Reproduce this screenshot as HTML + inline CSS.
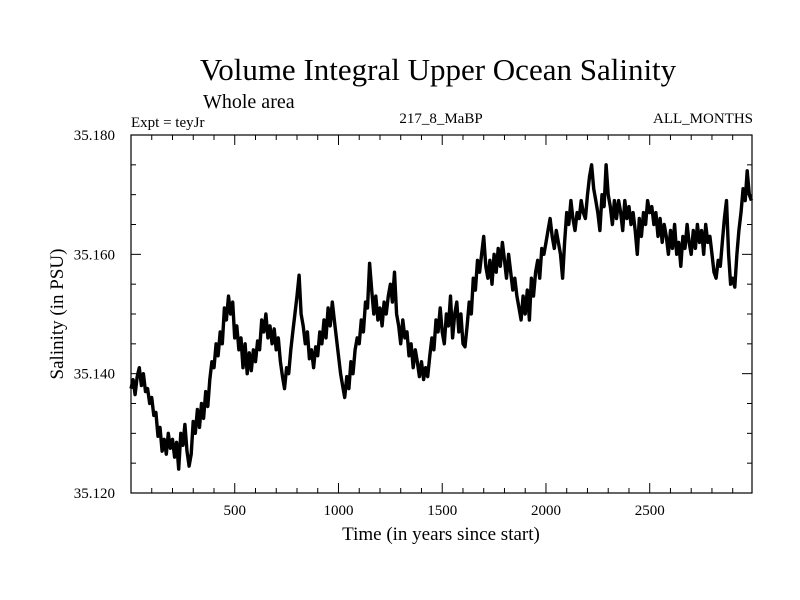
<!DOCTYPE html>
<html><head><meta charset="utf-8"><style>
html,body{margin:0;padding:0;background:#fff;}
svg{display:block;font-family:"Liberation Serif",serif;}
</style></head><body>
<svg id="chart" width="800" height="600" viewBox="0 0 800 600">
<text x="438" y="80" font-size="31" text-anchor="middle">Volume Integral Upper Ocean Salinity</text>
<text x="203" y="108" font-size="20">Whole area</text>
<text x="131" y="127" font-size="15">Expt = teyJr</text>
<text x="441" y="123" font-size="15" text-anchor="middle">217_8_MaBP</text>
<text x="753" y="123" font-size="15" text-anchor="end">ALL_MONTHS</text>
<text x="441" y="540" font-size="19" text-anchor="middle">Time (in years since start)</text>
<text transform="translate(63,314) rotate(-90)" font-size="19" text-anchor="middle">Salinity (in PSU)</text>
<g id="axes"></g>
<g id="series"></g>
</svg>
<script>
const yTickValues=[35.120,35.140,35.160,35.180];
const yTickLabels=["35.120","35.140","35.160","35.180"];
const xTickValues=[500,1000,1500,2000,2500];
const xTickLabels=["500","1000","1500","2000","2500"];
const yearStep=10;
const salinity=[
35.1375,35.1390,35.1365,35.1395,35.1410,35.1380,35.1400,35.1370,35.1375,35.1350,
35.1360,35.1330,35.1335,35.1295,35.1310,35.1270,35.1290,35.1265,35.1300,35.1275,
35.1290,35.1260,35.1285,35.1240,35.1300,35.1280,35.1315,35.1270,35.1245,35.1265,
35.1320,35.1300,35.1340,35.1310,35.1350,35.1325,35.1370,35.1345,35.1390,35.1420,
35.1410,35.1450,35.1430,35.1470,35.1450,35.1510,35.1490,35.1530,35.1500,35.1520,
35.1460,35.1480,35.1440,35.1460,35.1410,35.1450,35.1400,35.1435,35.1405,35.1440,
35.1420,35.1455,35.1440,35.1490,35.1470,35.1500,35.1460,35.1480,35.1450,35.1475,
35.1440,35.1460,35.1420,35.1395,35.1375,35.1410,35.1400,35.1440,35.1470,35.1500,
35.1530,35.1565,35.1500,35.1480,35.1450,35.1470,35.1425,35.1440,35.1410,35.1445,
35.1430,35.1470,35.1450,35.1490,35.1460,35.1510,35.1480,35.1520,35.1490,35.1460,
35.1430,35.1400,35.1380,35.1360,35.1395,35.1375,35.1420,35.1400,35.1440,35.1460,
35.1450,35.1490,35.1470,35.1520,35.1510,35.1585,35.1540,35.1500,35.1530,35.1490,
35.1510,35.1480,35.1520,35.1500,35.1530,35.1550,35.1520,35.1570,35.1500,35.1480,
35.1450,35.1490,35.1460,35.1470,35.1430,35.1450,35.1410,35.1440,35.1420,35.1395,
35.1420,35.1390,35.1410,35.1395,35.1430,35.1460,35.1440,35.1490,35.1470,35.1510,
35.1470,35.1450,35.1500,35.1480,35.1530,35.1460,35.1500,35.1520,35.1470,35.1500,
35.1450,35.1445,35.1480,35.1520,35.1500,35.1560,35.1540,35.1590,35.1570,35.1600,
35.1630,35.1580,35.1560,35.1590,35.1550,35.1600,35.1570,35.1610,35.1580,35.1620,
35.1590,35.1560,35.1600,35.1570,35.1540,35.1560,35.1530,35.1510,35.1490,35.1530,
35.1500,35.1540,35.1490,35.1560,35.1530,35.1570,35.1590,35.1560,35.1610,35.1600,
35.1620,35.1640,35.1660,35.1630,35.1610,35.1640,35.1620,35.1600,35.1560,35.1620,
35.1670,35.1650,35.1690,35.1660,35.1640,35.1670,35.1660,35.1690,35.1670,35.1660,
35.1700,35.1730,35.1750,35.1710,35.1690,35.1670,35.1640,35.1700,35.1680,35.1750,
35.1700,35.1680,35.1650,35.1690,35.1660,35.1690,35.1670,35.1640,35.1690,35.1660,
35.1680,35.1650,35.1670,35.1640,35.1600,35.1660,35.1630,35.1670,35.1650,35.1690,
35.1670,35.1680,35.1650,35.1670,35.1630,35.1660,35.1620,35.1650,35.1630,35.1600,
35.1640,35.1610,35.1650,35.1600,35.1620,35.1580,35.1630,35.1610,35.1650,35.1620,
35.1600,35.1640,35.1610,35.1650,35.1620,35.1640,35.1600,35.1650,35.1620,35.1630,
35.1600,35.1570,35.1560,35.1590,35.1580,35.1620,35.1660,35.1690,35.1600,35.1550,
35.1560,35.1545,35.1600,35.1640,35.1670,35.1710,35.1690,35.1740,35.1700,35.1690
];
const NS="http://www.w3.org/2000/svg";
const L=131,R=752,T=135,B=493,X0=0,X1=2993,Y0=35.120,Y1=35.180;
function xs(v){return L+(v-X0)/(X1-X0)*(R-L);}
function ys(v){return B-(v-Y0)/(Y1-Y0)*(B-T);}
const axes=document.getElementById('axes');
function mk(tag,attrs,parent){const e=document.createElementNS(NS,tag);for(const k in attrs)e.setAttribute(k,attrs[k]);parent.appendChild(e);return e;}
const frame=mk('rect',{x:L,y:T,width:R-L,height:B-T,fill:'none',stroke:'#000','stroke-width':1.2},axes);


for(let v=100;v<X1;v+=100){
  const major=v%500===0, len=major?10:5, x=xs(v);
  const t1=mk('line',{x1:x,x2:x,y1:B,y2:B-len,stroke:'#000','stroke-width':1},axes);
  
  
  const t2=mk('line',{x1:x,x2:x,y1:T,y2:T+len,stroke:'#000','stroke-width':1},axes);
  
  
}
for(let i=0;i<=12;i++){
  const v=Y0+i*0.005, major=i%4===0, len=major?10:5, y=ys(v);
  const t1=mk('line',{x1:L,x2:L+len,y1:y,y2:y,stroke:'#000','stroke-width':1},axes);
  
  
  const t2=mk('line',{x1:R,x2:R-len,y1:y,y2:y,stroke:'#000','stroke-width':1},axes);
  
  
}
xTickValues.forEach((v,i)=>{
  const t=mk('text',{x:xs(v),y:515,'font-size':15,'text-anchor':'middle'},axes);
  t.textContent=xTickLabels[i];
  
  
});
yTickValues.forEach((v,i)=>{
  const t=mk('text',{x:115,y:ys(v)+5,'font-size':15,'text-anchor':'end'},axes);
  t.textContent=yTickLabels[i];
  
  
});
const pts=salinity.map((v,i)=>xs(i*yearStep).toFixed(1)+','+ys(v).toFixed(1)).join(' ');
const line=mk('polyline',{points:pts,fill:'none',stroke:'#000','stroke-width':3.4,'stroke-linejoin':'round'},document.getElementById('series'));


</script>
</body></html>
